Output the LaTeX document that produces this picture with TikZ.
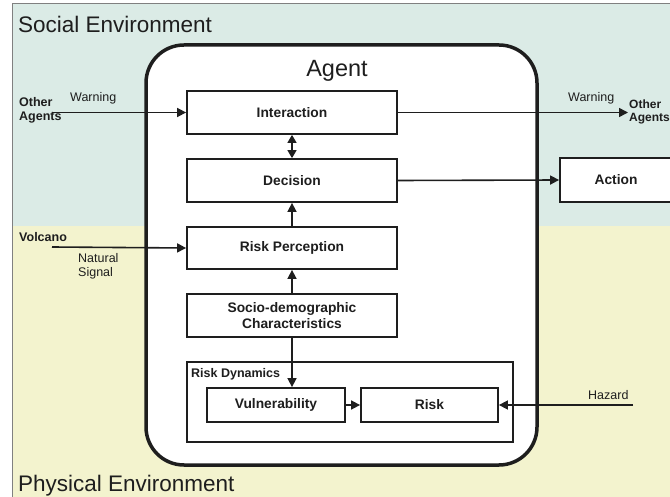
\documentclass[tikz,border=0pt]{standalone}
\usepackage{fontspec}
\setmainfont{Liberation Sans}
\usetikzlibrary{arrows.meta}
\definecolor{socbg}{RGB}{219,235,230}
\definecolor{phybg}{RGB}{243,243,206}
\definecolor{ink}{RGB}{30,30,30}
\begin{document}
\begin{tikzpicture}[x=1pt,y=-1pt,
 box/.style={draw=ink, line width=1.8pt, fill=white, inner sep=0pt, font=\fontsize{13.8}{15.5}\selectfont\bfseries, align=center, text=ink},
 arr/.style={draw=ink, line width=1.6pt, -{Triangle[length=9pt,width=9pt]}},
 dbl/.style={draw=ink, line width=1.6pt, {Triangle[length=8pt,width=9pt]}-{Triangle[length=8pt,width=9pt]}},
 lbl/.style={font=\fontsize{12.5}{13.5}\selectfont, text=ink, inner sep=0pt, anchor=west, align=left},
 blbl/.style={lbl, font=\fontsize{12.5}{13.5}\selectfont\bfseries},
 big/.style={font=\fontsize{22.5}{26}\selectfont, text=ink, inner sep=0pt, anchor=base west},
]
\clip (0,0) rectangle (670,497);
\fill[white] (0,0) rectangle (670,497);
\fill[socbg] (12,3) rectangle (670,226);
\fill[phybg] (12,226) rectangle (670,497);
\draw[gray, line width=0.6pt] (12,497) -- (12,3) -- (670,3);

\node[big] (soc) at (18,33) {Social Environment};
\node[big] (phy) at (18,491) {Physical Environment};

\draw[ink, line width=3.5pt, fill=white, rounded corners=38pt] (146,45) rectangle (537,465);
\node[big, anchor=base, font=\fontsize{23.5}{26}\selectfont] (agent) at (337,77) {Agent};

\node[box, minimum width=210pt, minimum height=43pt] (inter) at (292,112.5) {Interaction};
\node[box, minimum width=210pt, minimum height=43pt] (dec) at (292,180.5) {Decision};
\node[box, minimum width=210pt, minimum height=42pt] (rp) at (292,248) {Risk Perception};
\node[box, minimum width=210pt, minimum height=43pt] (socio) at (292,315.5) {Socio-demographic\\Characteristics};
\node[box, minimum width=326pt, minimum height=80pt] (rd) at (350,402) {};
\node[blbl] (rdl) at (191,374) {Risk Dynamics};
\node[box, minimum width=138pt, minimum height=34pt] (vul) at (276,405) {Vulnerability};
\node[box, minimum width=137pt, minimum height=34pt] (risk) at (429.5,405) {Risk};
\node[box, minimum width=112pt, minimum height=44pt] (act) at (616,180) {Action};

\node[blbl] (oa1) at (19,110.5) {Other\\Agents};
\node[lbl] (w1) at (70,98) {Warning};
\node[lbl] (w2) at (568,98) {Warning};
\node[blbl, font=\fontsize{12}{13}\selectfont\bfseries] (oa2) at (629,111.5) {Other\\Agents};
\node[blbl] (volc) at (19,237) {Volcano};
\node[lbl] (ns) at (78,266.5) {Natural\\Signal};
\node[lbl] (haz) at (588,395) {Hazard};

\coordinate (oaL) at (52,112.5);
\coordinate (oaR) at (628,112.5);
\coordinate (volL) at (52,247);
\coordinate (hazR) at (633,405);

\draw[arr] (oaL) -- (inter.west);
\draw[arr] (inter.east) -- (oaR);
\draw[arr] (dec.east) -- (act.west);
\draw[arr] (volL) -- (rp.west);
\draw[arr] (hazR) -- (risk.east);
\draw[dbl] (inter.south) -- (dec.north);
\draw[arr] (rp.north) -- (dec.south);
\draw[arr] (socio.north) -- (rp.south);
\draw[arr] (socio.south) -- (socio.south |- vul.north);
\draw[arr] (vul.east) -- (risk.west);
\end{tikzpicture}
\end{document}
